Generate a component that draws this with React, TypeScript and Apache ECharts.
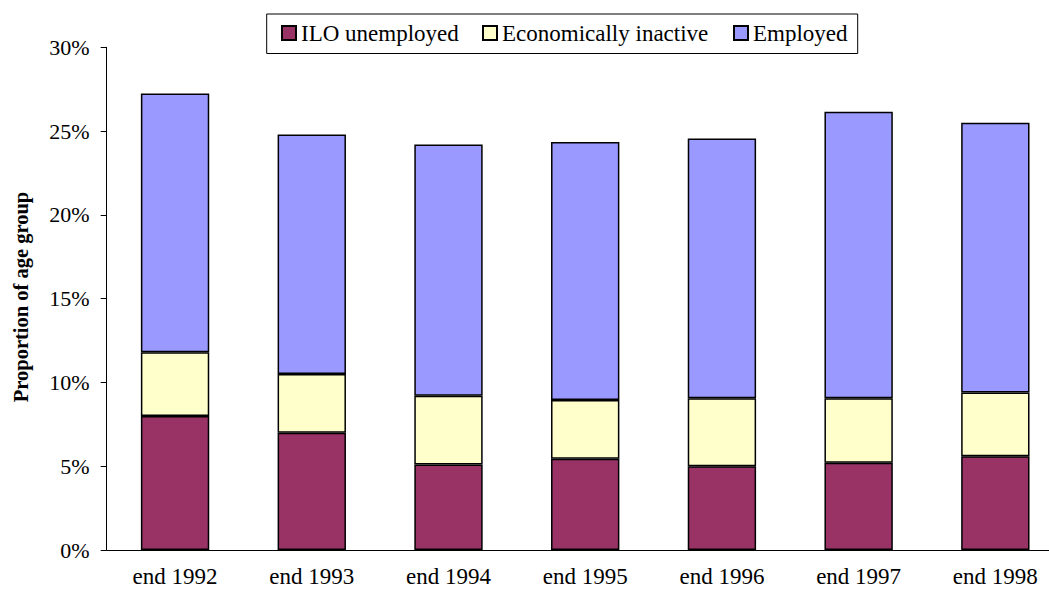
import React, { useEffect, useRef } from "react";
import * as echarts from "echarts";

const categories = ["end 1992", "end 1993", "end 1994", "end 1995", "end 1996", "end 1997", "end 1998"];
const unemployed = [8.0, 7.0, 5.1, 5.45, 5.0, 5.2, 5.6];
const inactive = [3.8, 3.5, 4.1, 3.5, 4.05, 3.85, 3.8];
const employed = [15.45, 14.3, 15.0, 15.4, 15.5, 17.1, 16.1];
const seriesNames = ["ILO unemployed", "Economically inactive", "Employed"];
const yTitle = "Proportion of age group";

const FONT = "Liberation Serif";

export default function App() {
  const ref = useRef<HTMLDivElement>(null);
  useEffect(() => {
    if (!ref.current) return;
    const chart = echarts.init(ref.current, null, { renderer: "svg" });
    const colors = ["#993366", "#FFFFCC", "#9999FF"];
    const dataSets = [unemployed, inactive, employed];
    const legendLefts = [281, 482, 733];
    chart.setOption({
      animation: false,
      backgroundColor: "#ffffff",
      textStyle: { fontFamily: FONT },
      grid: {
        left: 106.7,
        top: 47.3,
        width: 957,
        height: 502.7,
        containLabel: false,
        outerBoundsMode: "none",
      },
      legend: seriesNames.map((n, i) => ({
        data: [n],
        left: legendLefts[i],
        top: 21.5,
        padding: 0,
        itemWidth: 14,
        itemHeight: 14,
        icon: "rect",
        textStyle: { fontFamily: FONT, fontSize: 23, color: "#000" },
        selectedMode: false,
      })),
      graphic: [
        {
          type: "rect",
          shape: { x: 266.7, y: 14, width: 591, height: 39.5 },
          style: { fill: "none", stroke: "#000", lineWidth: 1 },
          silent: true,
        },
        {
          type: "text",
          x: 21,
          y: 297,
          rotation: Math.PI / 2,
          style: {
            text: yTitle,
            fontFamily: FONT,
            fontSize: 20.5,
            fontWeight: "bold",
            fill: "#000",
            align: "center",
            verticalAlign: "middle",
          },
        },
      ],
      xAxis: {
        type: "category",
        data: categories,
        axisLine: { lineStyle: { color: "#000", width: 1 } },
        axisTick: { length: 6, lineStyle: { color: "#000" } },
        axisLabel: { color: "#000", fontFamily: FONT, fontSize: 23, margin: 15 },
        splitLine: { show: false },
      },
      yAxis: {
        type: "value",
        min: 0,
        max: 30,
        interval: 5,
        axisLine: { show: true, lineStyle: { color: "#000", width: 1 } },
        axisTick: { show: true, length: 6, lineStyle: { color: "#000" } },
        axisLabel: {
          color: "#000",
          fontFamily: FONT,
          fontSize: 22,
          margin: 17,
          formatter: (v: number) => `${v}%`,
        },
        splitLine: { show: false },
      },
      series: seriesNames.map((n, i) => ({
        name: n,
        type: "bar",
        stack: "total",
        barWidth: "50%",
        data: dataSets[i],
        itemStyle: { color: colors[i], borderColor: "#000", borderWidth: 1.5 },
      })),
    });
    return () => chart.dispose();
  }, []);
  return (
    <div
      ref={ref}
      style={{ position: "absolute", left: 0, top: 0, width: 1049, height: 590 }}
    />
  );
}
